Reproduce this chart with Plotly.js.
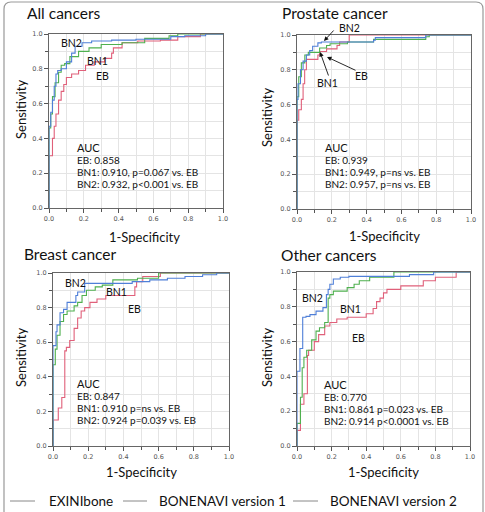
<!DOCTYPE html>
<html>
<head>
<meta charset="utf-8">
<script src="https://cdn.plot.ly/plotly-3.0.1.min.js"></script>
<style>
  html, body { margin: 0; padding: 0; background: #fff; }
  #chart { width: 485px; height: 512px; }
</style>
</head>
<body>
<div id="chart"></div>
<script>
// ROC curves: false positive rate (1-specificity) vs sensitivity, per cancer group.
// All cancers
const allEB_x  = [0, 0, 0.02, 0.03, 0.04, 0.055, 0.07, 0.085, 0.1, 0.13, 0.17, 0.21, 0.26, 0.32, 0.36, 0.37, 0.42, 0.51, 0.64, 0.74, 0.87, 1];
const allEB_y  = [0, 0.1, 0.3, 0.4, 0.47, 0.54, 0.62, 0.67, 0.71, 0.75, 0.77, 0.79, 0.82, 0.84, 0.86, 0.89, 0.92, 0.95, 0.96, 0.965, 0.985, 1];
const allBN1_x = [0, 0, 0.01, 0.02, 0.035, 0.055, 0.07, 0.09, 0.12, 0.17, 0.23, 0.3, 0.42, 0.55, 0.69, 0.74, 1];
const allBN1_y = [0, 0.36, 0.46, 0.54, 0.64, 0.72, 0.78, 0.82, 0.83, 0.87, 0.9, 0.92, 0.94, 0.95, 0.975, 0.99, 1];
const allBN2_x = [0, 0, 0.01, 0.02, 0.03, 0.04, 0.05, 0.07, 0.1, 0.13, 0.15, 0.19, 0.245, 0.36, 0.5, 0.7, 0.78, 0.9, 1];
const allBN2_y = [0, 0.4, 0.47, 0.55, 0.62, 0.7, 0.77, 0.79, 0.8, 0.84, 0.89, 0.93, 0.95, 0.96, 0.965, 0.97, 0.985, 0.99, 1];

// Prostate cancer
const proEB_x  = [0, 0, 0.01, 0.025, 0.035, 0.044, 0.054, 0.08, 0.12, 0.13, 0.17, 0.23, 0.245, 0.3, 0.48, 1];
const proEB_y  = [0, 0.46, 0.51, 0.57, 0.63, 0.72, 0.8, 0.86, 0.86, 0.885, 0.905, 0.92, 0.94, 0.96, 1, 1];
const proBN1_x = [0, 0, 0.01, 0.025, 0.045, 0.065, 0.09, 0.13, 0.15, 0.17, 0.19, 0.29, 0.3, 0.44, 0.46, 0.74, 0.76, 1];
const proBN1_y = [0, 0.5, 0.645, 0.76, 0.84, 0.885, 0.9, 0.9, 0.925, 0.925, 0.94, 0.95, 0.96, 0.96, 0.975, 0.975, 0.99, 1];
const proBN2_x = [0, 0, 0.006, 0.02, 0.035, 0.054, 0.073, 0.09, 0.12, 0.14, 0.44, 0.45, 0.74, 1];
const proBN2_y = [0, 0.6, 0.63, 0.72, 0.8, 0.85, 0.885, 0.91, 0.935, 0.955, 0.96, 0.97, 0.985, 1];

// Breast cancer
const brEB_x  = [0, 0, 0.03, 0.05, 0.067, 0.076, 0.095, 0.12, 0.14, 0.16, 0.18, 0.21, 0.25, 0.3, 0.375, 0.465, 0.475, 0.51, 0.61, 0.7, 1];
const brEB_y  = [0, 0.05, 0.15, 0.22, 0.28, 0.55, 0.57, 0.61, 0.68, 0.74, 0.78, 0.8, 0.83, 0.85, 0.87, 0.87, 0.92, 0.95, 0.98, 1, 1];
const brBN1_x = [0, 0, 0.013, 0.023, 0.04, 0.06, 0.08, 0.12, 0.14, 0.165, 0.19, 0.24, 0.28, 0.34, 0.48, 0.6, 0.72, 1];
const brBN1_y = [0, 0.38, 0.47, 0.56, 0.64, 0.72, 0.76, 0.78, 0.81, 0.83, 0.87, 0.9, 0.92, 0.93, 0.96, 0.97, 1, 1];
const brBN2_x = [0, 0, 0.017, 0.023, 0.04, 0.06, 0.08, 0.09, 0.13, 0.14, 0.18, 0.2, 0.45, 0.55, 0.65, 0.75, 0.85, 0.93, 1];
const brBN2_y = [0, 0.5, 0.58, 0.66, 0.7, 0.77, 0.79, 0.83, 0.83, 0.87, 0.89, 0.94, 0.94, 0.95, 0.96, 0.97, 0.98, 0.99, 1];

// Other cancers
const otEB_x  = [0, 0, 0.02, 0.04, 0.06, 0.067, 0.1, 0.125, 0.16, 0.19, 0.23, 0.29, 0.4, 0.44, 0.46, 0.48, 0.5, 0.52, 0.6, 0.73, 0.8, 0.83, 0.92, 1];
const otEB_y  = [0, 0.03, 0.09, 0.24, 0.3, 0.52, 0.55, 0.6, 0.64, 0.69, 0.71, 0.73, 0.74, 0.76, 0.79, 0.83, 0.85, 0.88, 0.9, 0.92, 0.95, 0.97, 0.97, 1];
const otBN1_x = [0, 0, 0.02, 0.03, 0.04, 0.056, 0.085, 0.11, 0.13, 0.16, 0.18, 0.19, 0.21, 0.29, 0.33, 0.36, 0.42, 0.56, 0.77, 1];
const otBN1_y = [0, 0.08, 0.13, 0.28, 0.45, 0.51, 0.55, 0.61, 0.66, 0.68, 0.71, 0.85, 0.87, 0.89, 0.91, 0.93, 0.95, 0.97, 1, 1];
const otBN2_x = [0, 0, 0.017, 0.033, 0.052, 0.075, 0.11, 0.15, 0.17, 0.18, 0.19, 0.21, 0.25, 0.3, 0.36, 0.65, 0.79, 1];
const otBN2_y = [0, 0.37, 0.43, 0.56, 0.74, 0.745, 0.755, 0.775, 0.795, 0.87, 0.9, 0.93, 0.96, 0.97, 0.975, 0.975, 0.985, 1];

const panelTitles = ["All cancers", "Prostate cancer", "Breast cancer", "Other cancers"];
const aucText = [
  ["AUC", "EB: 0.858", "BN1: 0.910, p=0.067 vs. EB", "BN2: 0.932, p<0.001 vs. EB"],
  ["AUC", "EB: 0.939", "BN1: 0.949, p=ns vs. EB", "BN2: 0.957, p=ns vs. EB"],
  ["AUC", "EB: 0.847", "BN1: 0.910 p=ns vs. EB", "BN2: 0.924 p=0.039 vs. EB"],
  ["AUC", "EB: 0.770", "BN1: 0.861 p=0.023 vs. EB", "BN2: 0.914 p<0.0001 vs. EB"]
];
const legendNames = ["EXINIbone", "BONENAVI version 1", "BONENAVI version 2"];
const tickVals = [0, 0.2, 0.4, 0.6, 0.8, 1.0];
const xTitle = "1-Specificity";
const yTitle = "Sensitivity";

const W = 485, H = 512;
const px = v => v / W;           // pixel column -> paper x
const py = v => 1 - v / H;       // pixel row -> paper y

const COL = { EB: "#e0607a", BN1: "#4fb04f", BN2: "#4f7fd8" };
const FONT = "Lato, 'Open Sans', sans-serif";

// plot-area boxes in pixels: [left, right, top, bottom]
const boxes = [
  [49, 223, 34, 208],
  [297, 471, 35, 209],
  [53, 229, 273, 446],
  [297, 470, 272, 446]
];

const series = [
  [[allEB_x, allEB_y], [allBN1_x, allBN1_y], [allBN2_x, allBN2_y]],
  [[proEB_x, proEB_y], [proBN1_x, proBN1_y], [proBN2_x, proBN2_y]],
  [[brEB_x, brEB_y], [brBN1_x, brBN1_y], [brBN2_x, brBN2_y]],
  [[otEB_x, otEB_y], [otBN1_x, otBN1_y], [otBN2_x, otBN2_y]]
];
const keys = ["EB", "BN1", "BN2"];

const traces = [];
series.forEach((grp, i) => {
  const xa = i === 0 ? "x" : "x" + (i + 1);
  const ya = i === 0 ? "y" : "y" + (i + 1);
  grp.forEach((s, k) => {
    traces.push({
      x: s[0], y: s[1], xaxis: xa, yaxis: ya,
      type: "scatter", mode: "lines",
      line: { color: COL[keys[k]], width: 1.1, shape: "vh" },
      name: legendNames[k], showlegend: false, hoverinfo: "skip"
    });
  });
});

function axisBase(domain) {
  return {
    domain: domain, range: [0, 1], fixedrange: true,
    tickvals: tickVals, ticktext: tickVals.map(v => v.toFixed(1)),
    ticks: "outside", ticklen: 4, tickwidth: 1, tickcolor: "#555",
    tickfont: { family: "'DejaVu Sans', sans-serif", size: 6.5, color: "#555" },
    showline: true, mirror: true, linecolor: "#666", linewidth: 1,
    showgrid: true, gridcolor: "#e4e4e4", gridwidth: 1,
    zeroline: false,
    minor: { tickvals: [0.1, 0.3, 0.5, 0.7, 0.9], ticks: "outside", ticklen: 3,
             tickcolor: "#555", showgrid: true, gridcolor: "#e4e4e4", gridwidth: 1 }
  };
}

const layout = {
  width: W, height: H,
  margin: { l: 0, r: 0, t: 0, b: 0 },
  paper_bgcolor: "#fff", plot_bgcolor: "#fff",
  showlegend: false,
  font: { family: FONT, color: "#111" },
  annotations: [], shapes: []
};

boxes.forEach((b, i) => {
  const n = i === 0 ? "" : String(i + 1);
  const xa = axisBase([px(b[0]), px(b[1])]);
  xa.anchor = "y" + n;
  const ya = axisBase([py(b[3]), py(b[2])]);
  ya.anchor = "x" + n;
  layout["xaxis" + n] = xa;
  layout["yaxis" + n] = ya;
});

function note(text, x, y, size, opts) {
  layout.annotations.push(Object.assign({
    text: text, xref: "paper", yref: "paper", x: px(x), y: py(y),
    xanchor: "left", yanchor: "middle", showarrow: false,
    font: { family: FONT, size: size, color: "#111" }
  }, opts || {}));
}

// panel titles
const titlePos = [[26, 13], [281, 13], [23, 254], [280, 255]];
panelTitles.forEach((t, i) => note(t, titlePos[i][0] - 1, titlePos[i][1], 15.5));

// axis titles
const xTitlePos = [[144, 237], [384, 236], [141, 472], [383, 472]];
const yTitlePos = [[21, 110], [267, 118], [21, 358], [267, 358]];
xTitlePos.forEach(p => note(xTitle, p[0], p[1], 13, { xanchor: "center" }));
yTitlePos.forEach(p => note(yTitle, p[0], p[1], 13, { xanchor: "center", textangle: -90 }));

// AUC blocks
const aucPos = [[76, 147], [324, 147], [76, 383], [323, 384]];
const aucRows = [0, 13, 25, 37];
aucText.forEach((lines, i) => {
  lines.forEach((t, r) => note(t, aucPos[i][0] - 1, aucPos[i][1] + aucRows[r], r === 0 ? 11 : 10));
});

// curve labels
const labels = [
  [["BN2", 71, 43], ["BN1", 97, 61], ["EB", 102, 76]],
  [["BN2", 349, 28], ["BN1", 327, 83], ["EB", 361, 76]],
  [["BN2", 75, 283], ["BN1", 116, 292], ["EB", 134, 309]],
  [["BN2", 312, 298], ["BN1", 350, 309], ["EB", 358, 338]]
];
labels.forEach(grp => grp.forEach(l => note(l[0], l[1], l[2], 10.5, { xanchor: "center" })));

// pointer arrows in the prostate panel
[[324, 41, 11, -12], [320, 52, 9, 25], [327, 57, 30, 14]].forEach(a => {
  layout.annotations.push({
    text: "", xref: "paper", yref: "paper", x: px(a[0]), y: py(a[1]),
    ax: a[2], ay: a[3], showarrow: true, arrowhead: 2, arrowsize: 1,
    arrowwidth: 0.9, arrowcolor: "#111"
  });
});

// legend row
const legLines = [[10, 35], [123, 147], [293, 318]];
const legText = [47, 157, 328];
legLines.forEach((l, i) => {
  layout.shapes.push({
    type: "line", xref: "paper", yref: "paper",
    x0: px(l[0]), x1: px(l[1]), y0: py(501), y1: py(501),
    line: { color: "#888", width: 1 }
  });
  note(legendNames[i], legText[i], 501, 13.5);
});

// outer frame with rounded top corners
const r = 7, L = 4, R = 483, T = 2;
layout.shapes.push({
  type: "path", xref: "paper", yref: "paper",
  path: `M ${px(L)} ${py(H + 2)} L ${px(L)} ${py(T + r)} Q ${px(L)} ${py(T)} ${px(L + r)} ${py(T)} ` +
        `L ${px(R - r)} ${py(T)} Q ${px(R)} ${py(T)} ${px(R)} ${py(T + r)} L ${px(R)} ${py(H + 2)}`,
  line: { color: "#999", width: 1.2 }
});

Plotly.newPlot("chart", traces, layout, { staticPlot: true, displayModeBar: false });
</script>
</body>
</html>
